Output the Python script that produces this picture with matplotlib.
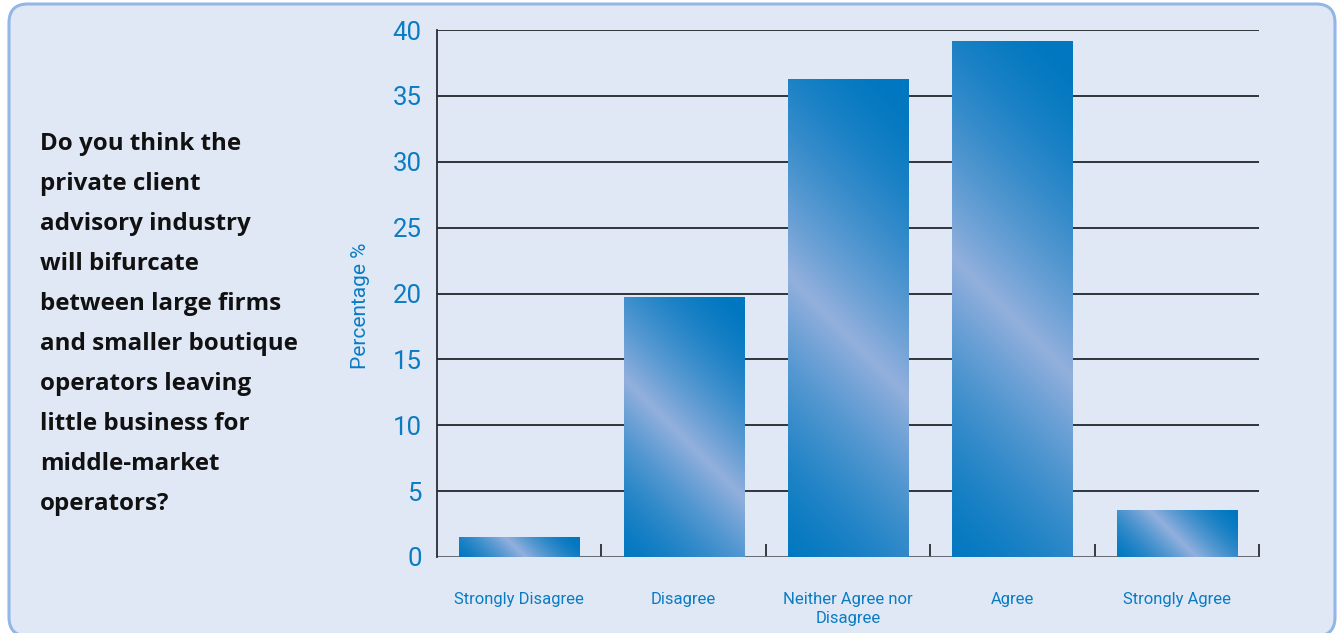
import numpy as np
from matplotlib import pyplot as plt
from matplotlib.patches import FancyBboxPatch
from matplotlib.colors import to_rgb

categories = ["Strongly Disagree", "Disagree", "Neither Agree nor\nDisagree", "Agree", "Strongly Agree"]
values = [1.5, 19.7, 36.3, 39.2, 3.6]
y_ticks = [0, 5, 10, 15, 20, 25, 30, 35, 40]
question = ["Do you think the", "private client", "advisory industry", "will bifurcate",
            "between large firms", "and smaller boutique", "operators leaving",
            "little business for", "middle-market", "operators?"]

BLUE = "#0a7cc4"
DARK = np.array(to_rgb("#0077c0"))
LIGHT = np.array(to_rgb("#93b0dd"))

plt.rcParams['font.family'] = ['Roboto', 'DejaVu Sans']

W, H = 1341, 633
fig = plt.figure(figsize=(W / 100, H / 100), dpi=100)
fig.patch.set_facecolor("white")

# rounded panel behind everything
panel = FancyBboxPatch((9 / W, -3 / H), 1326 / W, 632 / H,
                       boxstyle="round,pad=0,rounding_size=0.014",
                       transform=fig.transFigure, fc="#e1e8f5", ec="#94b6e6", lw=2.2,
                       mutation_aspect=W / H, zorder=-5)
fig.patches.append(panel)

for i, line in enumerate(question):
    fig.text(40 / W, 1 - (150 + 40 * i) / H, line, fontsize=17.4, fontweight="bold",
             family=['Open Sans', 'DejaVu Sans'],
             color="#111111", va="baseline", ha="left")

ax = fig.add_axes([437 / W, 76 / H, 822 / W, 527 / H])
ax.set_facecolor("none")
ax.set_zorder(2)
x = np.arange(len(categories))
ax.set_xlim(-0.5, len(categories) - 0.5)
ax.set_ylim(0, 40)

bars = ax.bar(x, values, width=0.73, color="none", zorder=3)

# diagonal gradient fill, clipped to each bar
for b in bars:
    x0, y0 = b.get_x(), b.get_y()
    bw, bh = b.get_width(), b.get_height()
    p0 = ax.transData.transform((x0, y0))
    p1 = ax.transData.transform((x0 + bw, y0 + bh))
    wpx, hpx = p1[0] - p0[0], p1[1] - p0[1]
    nx, ny = max(int(wpx), 2), max(int(hpx), 2)
    u, v = np.meshgrid(np.linspace(0, 1, nx), np.linspace(0, 1, ny))
    t = (u * wpx + v * hpx) / (wpx + hpx)
    wgt = (1 - np.abs(2 * t - 0.94).clip(0, 1)) ** 1.5
    img = DARK[None, None, :] * (1 - wgt[..., None]) + LIGHT[None, None, :] * wgt[..., None]
    im = ax.imshow(img, extent=[x0, x0 + bw, y0, y0 + bh], origin="lower",
                   aspect="auto", interpolation="bilinear", zorder=3)
    im.set_clip_path(b)

for yv in y_ticks[1:]:
    ax.axhline(yv, color="#30343a", lw=1.4, zorder=1)
ax.axhline(0, color="#5a5f66", lw=2, zorder=2)

for s in ["top", "right", "bottom"]:
    ax.spines[s].set_visible(False)
ax.spines["left"].set_color("#2a2d33")
ax.spines["left"].set_linewidth(1.3)

ax.set_yticks(y_ticks)
ax.tick_params(axis="y", length=0, pad=11, labelsize=18.5, labelcolor=BLUE)
ax.set_xticks(x)
ax.set_xticklabels(categories, fontsize=12, color=BLUE, linespacing=1.35)
ax.set_xticks(np.arange(0.5, len(categories)), minor=True)
ax.tick_params(axis="x", which="major", length=0, pad=25)
ax.tick_params(axis="x", which="minor", direction="in", length=9.5, width=1.3, color="#2a2d33")

ax.set_ylabel("Percentage %", fontsize=15, color=BLUE)
ax.yaxis.set_label_coords(-0.081, 0.476)

fig.savefig("out.png", dpi=100)
